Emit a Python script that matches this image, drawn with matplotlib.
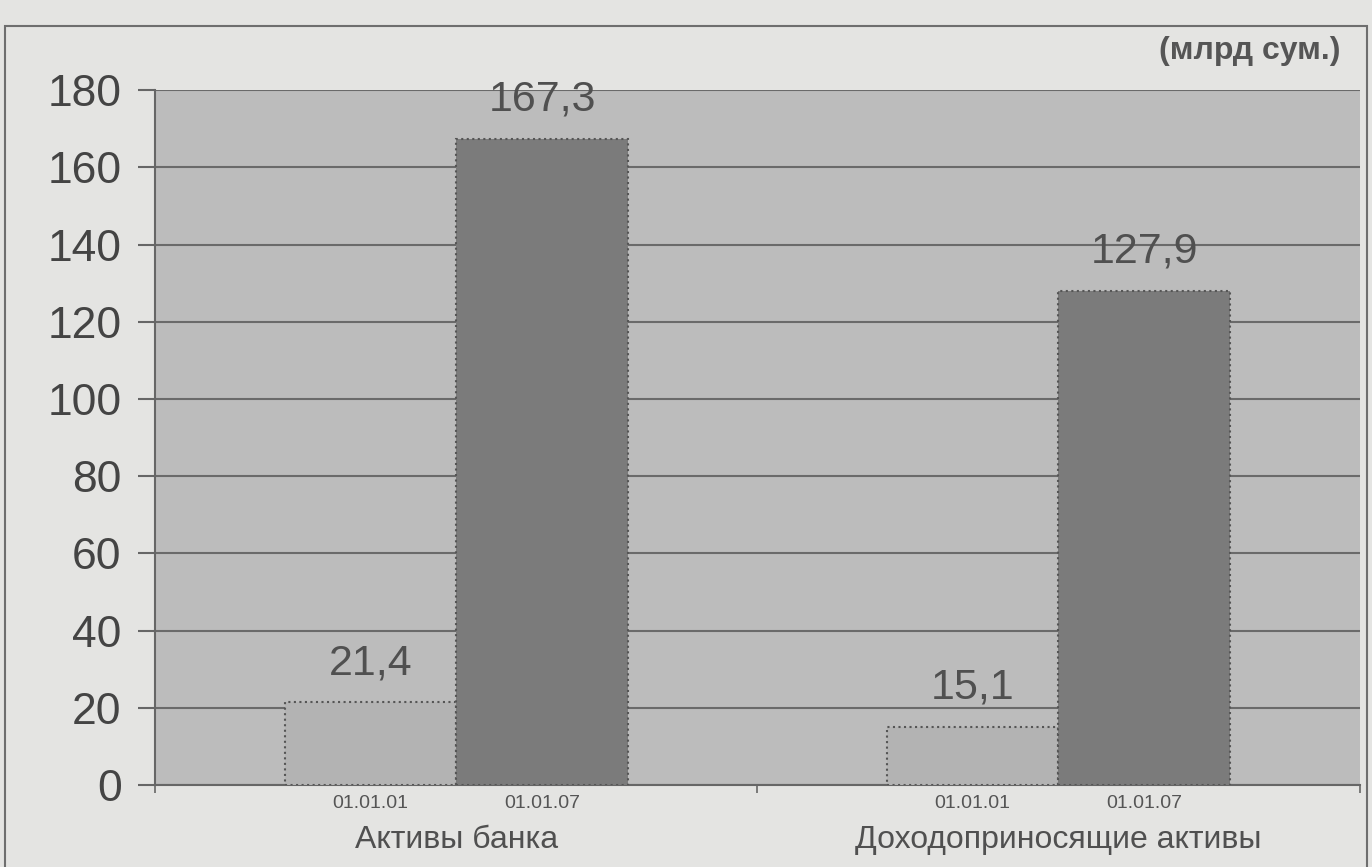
import matplotlib.pyplot as plt
import numpy as np

categories = ['Активы банка', 'Доходоприносящие активы']
dates = ['01.01.01', '01.01.07']
values_2001 = [21.4, 15.1]
values_2007 = [167.3, 127.9]
value_labels_2001 = ['21,4', '15,1']
value_labels_2007 = ['167,3', '127,9']
unit_label = '(млрд сум.)'

plt.rcParams['font.family'] = ['Liberation Sans', 'DejaVu Sans']

fig = plt.figure(figsize=(13.72, 8.67), dpi=100, facecolor='#e4e4e2')
ax = fig.add_axes([0.113, 0.0946, 0.878, 0.8015])
ax.set_facecolor('#bcbcbc')

x = np.arange(len(categories))
w = 0.285
ax.bar(x - w / 2, values_2001, w, color='#b3b3b3', edgecolor='#555555', linewidth=1.5, linestyle=':', zorder=3)
ax.bar(x + w / 2, values_2007, w, color='#7b7b7b', edgecolor='#555555', linewidth=1.5, linestyle=':', zorder=3)

for i in range(len(categories)):
    ax.text(x[i] - w / 2, values_2001[i] + 5, value_labels_2001[i], ha='center', va='bottom',
            fontsize=31, color='#505050')
    ax.text(x[i] + w / 2, values_2007[i] + 5, value_labels_2007[i], ha='center', va='bottom',
            fontsize=31, color='#505050')
    ax.text(x[i] - w / 2, -4.7, dates[0], ha='center', va='center', fontsize=14, color='#555555')
    ax.text(x[i] + w / 2, -4.7, dates[1], ha='center', va='center', fontsize=14, color='#555555')
    ax.text(x[i], -14.2, categories[i], ha='center', va='center', fontsize=23, color='#505050')

ax.set_xlim(-0.5, 1.5)
ax.set_ylim(0, 180)
ax.set_yticks(range(0, 181, 20))
ax.yaxis.grid(True, color='#6a6a6a', linewidth=1.5, zorder=0)
ax.set_axisbelow(True)
ax.set_xticks([-0.5, 0.5, 1.5])
ax.set_xticklabels([])
ax.tick_params(axis='x', length=6, width=1.2, color='#666666')
ax.tick_params(axis='y', length=12, width=1.5, color='#666666', labelsize=32, labelcolor='#444444', pad=12)

for side in ['top', 'right']:
    ax.spines[side].set_visible(False)
ax.spines['left'].set_color('#666666')
ax.spines['left'].set_linewidth(1.5)
ax.spines['bottom'].set_color('#666666')
ax.spines['bottom'].set_linewidth(1.5)

fig.text(0.977, 0.941, unit_label, ha='right', va='center', fontsize=23, fontweight='bold', color='#555555')

# outer frame of the figure
frame = plt.Rectangle((0.004, -0.02), 0.992, 0.99, transform=fig.transFigure, fill=False,
                      edgecolor='#6e6e6e', linewidth=1.5)
fig.patches.append(frame)

fig.savefig('out.png', dpi=100, facecolor=fig.get_facecolor())
